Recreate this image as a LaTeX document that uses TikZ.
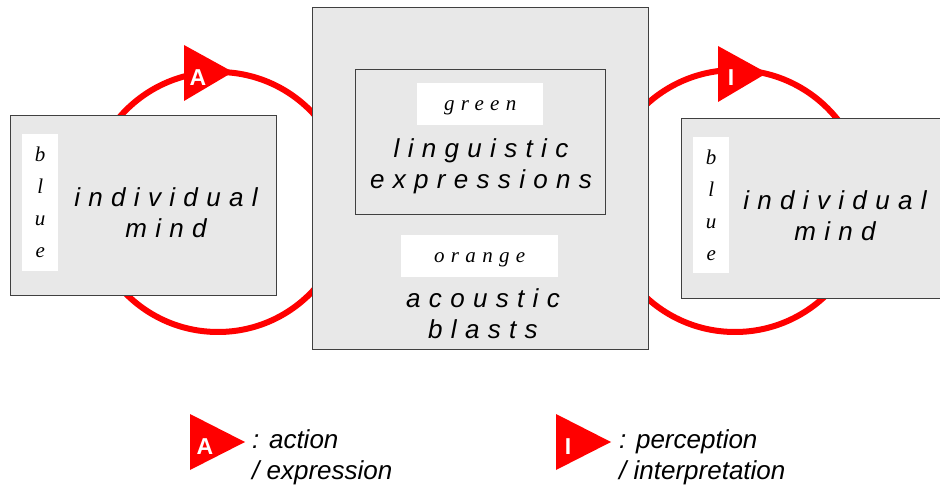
\documentclass[tikz,border=0pt]{standalone}
\usepackage{fontspec}
\newfontfamily\spacedsans[LetterSpace=32]{Liberation Sans}
\newfontfamily\legendsans{Liberation Sans}
\newfontfamily\tagserif[LetterSpace=30]{Liberation Serif}
\usetikzlibrary{positioning}

\definecolor{boxgray}{HTML}{E8E8E8}
\definecolor{loopred}{HTML}{FF0000}
\newcommand{\tagfont}{\tagserif\itshape\fontsize{21}{32}\selectfont}

\begin{document}
\begin{tikzpicture}[x=1pt, y=-1pt]

  \useasboundingbox (0,0) rectangle (940,486);

  % Define styles
  \tikzstyle{ring} = [draw=loopred, line width=6pt]
  \tikzstyle{marker} = [fill=loopred]
  \tikzstyle{marker_letter} = [text=white, font=\legendsans\bfseries\fontsize{23}{23}\selectfont, inner sep=0pt]
  \tikzstyle{panel} = [rectangle, draw=black!75, fill=boxgray, line width=1.2pt, anchor=north west, inner sep=0pt]
  \tikzstyle{tag_box} = [rectangle, fill=white, anchor=north west, inner sep=0pt]
  \tikzstyle{tag_text} = [font=\tagfont, align=center, inner sep=0pt]
  \tikzstyle{spaced} = [font=\spacedsans\itshape\fontsize{26}{31}\selectfont, align=center, inner sep=0pt]
  \tikzstyle{legend_text} = [font=\legendsans\itshape\fontsize{26}{31}\selectfont, align=left, anchor=west, inner sep=0pt]

  % Cycles
  \draw[ring] (218,202) circle [radius=130pt];
  \draw[ring] (735,201) circle [radius=131pt];

  % Left mind
  \node[panel, minimum width=266pt, minimum height=180pt] (left_box) at (10,115) {};
  \node[tag_box, minimum width=36pt, minimum height=137pt] (left_tag) at (22,134) {};
  \node[tag_text] (left_blue) at (left_tag.center) {b\\l\\u\\e};
  \node[spaced] (left_mind) at (166,213) {individual\\mind};

  % Right mind
  \node[panel, minimum width=280pt, minimum height=180pt] (right_box) at (681,118) {};
  \node[tag_box, minimum width=36pt, minimum height=136pt] (right_tag) at (693,137) {};
  \node[tag_text] (right_blue) at (right_tag.center) {b\\l\\u\\e};
  \node[spaced] (right_mind) at (835,216) {individual\\mind};

  % Shared world
  \node[panel, minimum width=336pt, minimum height=342pt] (world) at (312,7) {};
  \node[panel, minimum width=250pt, minimum height=145pt] (lang_box) at (355,69) {};
  \node[tag_box, minimum width=126pt, minimum height=42pt] (green_tag) at (417,83) {};
  \node[tag_text, yshift=-4pt] (green) at (green_tag.center) {green};
  \node[spaced] (ling) at (481,166) {linguistic\\expressions};
  \node[tag_box, minimum width=157pt, minimum height=42pt] (orange_tag) at (401,235) {};
  \node[tag_text, yshift=-4pt] (orange) at (orange_tag.center) {orange};
  \node[spaced] (acoustic) at (483,314) {acoustic\\blasts};

  % Markers on the cycles
  \fill[marker] (184,45) -- (233,72) -- (184,101) -- cycle;
  \node[marker_letter] (act) at (198,78) {A};
  \fill[marker] (718,46) -- (767,73) -- (718,102) -- cycle;
  \node[marker_letter] (perc) at (731,78) {I};

  % Legend
  \fill[marker] (190,414) -- (245,442) -- (190,470) -- cycle;
  \node[marker_letter] (act_key) at (205,447) {A};
  \node[legend_text] (act_text) at (252,457) {: action\\/ expression};

  \fill[marker] (556,414) -- (611,442) -- (556,470) -- cycle;
  \node[marker_letter] (perc_key) at (568,447) {I};
  \node[legend_text] (perc_text) at (619,457) {: perception\\/ interpretation};

\end{tikzpicture}
\end{document}
